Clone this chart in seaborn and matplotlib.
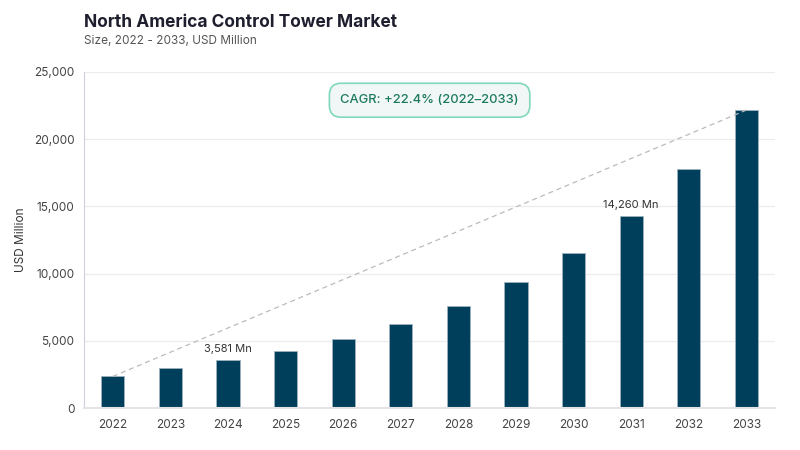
import pandas as pd
import matplotlib.pyplot as plt
import seaborn as sns
from matplotlib.ticker import FuncFormatter

sns.set_style("white")
plt.rcParams['font.family'] = ['Inter', 'DejaVu Sans']

# Market size by year (USD Million)
years = ["2022", "2023", "2024", "2025", "2026", "2027", "2028", "2029", "2030", "2031", "2032", "2033"]
market_size = [2360, 2950, 3581, 4240, 5130, 6230, 7590, 9350, 11510, 14260, 17760, 22170]
labelled_years = ["2024", "2031"]
cagr_text = "CAGR: +22.4% (2022–2033)"

df = pd.DataFrame({"Year": years, "Size": market_size})

fig = plt.figure(figsize=(8, 4.5), dpi=100)
ax = fig.add_axes([0.105, 0.093, 0.864, 0.747])

sns.barplot(data=df, x="Year", y="Size", color="#003f5c", width=0.4,
            edgecolor="#9fb3c0", linewidth=0.6, saturation=1, ax=ax)

ax.set_ylim(0, 25000)
ax.set_xlim(-0.5, len(years) - 0.5)
ax.set_yticks([0, 5000, 10000, 15000, 20000, 25000])
ax.yaxis.set_major_formatter(FuncFormatter(lambda v, p: f"{int(v):,}"))
ax.grid(axis="y", color="#ececec", linewidth=0.9)
ax.set_axisbelow(True)

for s in ["top", "right"]:
    ax.spines[s].set_visible(False)
ax.spines["left"].set_color("#cdd1da")
ax.spines["bottom"].set_color("#e3e3e8")
ax.spines["bottom"].set_linewidth(1.5)
ax.tick_params(axis="y", length=4, color="#dddddd", labelsize=8.5, labelcolor="#444444", pad=3)
ax.tick_params(axis="x", length=0, labelsize=8.5, labelcolor="#444444", pad=8)

ax.set_xlabel("")
ax.set_ylabel("USD Million", fontsize=8.5, color="#333333", labelpad=5)

# CAGR trend line from first to last bar top
ax.plot([0, len(years) - 1], [market_size[0], market_size[-1]],
        linestyle=(0, (4, 3)), color="#bbbbbb", linewidth=0.9, zorder=3)

for yr in labelled_years:
    i = years.index(yr)
    ax.text(i, market_size[i] + 450, f"{market_size[i]:,} Mn", ha="center", va="bottom",
            fontsize=8, color="#333333")

ax.text(0.5 * (len(years) - 1), 22900, cagr_text, ha="center", va="center",
        fontsize=9.3, color="#1b7a5c", fontweight="medium",
        bbox=dict(boxstyle="round,pad=0.85,rounding_size=0.9", facecolor="#f1f6f6",
                  edgecolor="#80d8bb", linewidth=1.2))

fig.text(0.105, 0.95, "North America Control Tower Market", fontsize=12.5,
         fontweight="bold", color="#1e1e2e", va="center")
fig.text(0.105, 0.908, "Size, 2022 - 2033, USD Million", fontsize=8.5,
         color="#555555", va="center")

fig.savefig("out.png", dpi=100, facecolor="white")
